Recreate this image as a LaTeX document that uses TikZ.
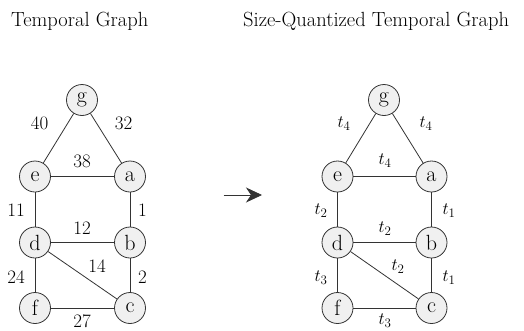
\documentclass[tikz,border=0pt]{standalone}
\usetikzlibrary{arrows.meta}
\definecolor{nodefill}{gray}{0.94}
\definecolor{edgecol}{gray}{0.2}
\newcommand{\tlab}[1]{$t_{\mbox{\fontsize{13}{13}\selectfont #1}}$}
\begin{document}
\begin{tikzpicture}[x=1pt,y=-1pt,
  vtx/.style={circle,draw=edgecol,fill=nodefill,line width=0.8pt,minimum size=31pt,inner sep=0pt,font=\fontsize{22}{22}\selectfont},
  lab/.style={inner sep=0pt,font=\fontsize{19}{19}\selectfont},
  ttl/.style={inner sep=0pt,anchor=base west,font=\fontsize{20.5}{20.5}\selectfont},
  edge/.style={draw=edgecol,line width=0.8pt}]
\useasboundingbox (0,0) rectangle (524,330);
\node[ttl] (t1) at (11,26) {Temporal Graph};
\node[ttl] (t2) at (243,26) {Size-Quantized Temporal Graph};
% left graph
\node[vtx] (g) at (82,100) {g};
\node[vtx] (e) at (35,176.5) {e};
\node[vtx] (a) at (130,176.5) {a};
\node[vtx] (d) at (35,242.5) {d};
\node[vtx] (b) at (130,242.5) {b};
\node[vtx] (f) at (35,308) {f};
\node[vtx] (c) at (130,308) {c};
\draw[edge] (g) -- (e);
\draw[edge] (g) -- (a);
\draw[edge] (e) -- (a);
\draw[edge] (e) -- (d);
\draw[edge] (a) -- (b);
\draw[edge] (d) -- (b);
\draw[edge] (d) -- (c);
\draw[edge] (d) -- (f);
\draw[edge] (b) -- (c);
\draw[edge] (f) -- (c);
\node[lab] (l1) at (39.5,123.5) {40};
\node[lab] (l2) at (123.5,123.5) {32};
\node[lab] (l3) at (82,161) {38};
\node[lab] (l4) at (16,210) {11};
\node[lab] (l5) at (142.5,210) {1};
\node[lab] (l6) at (82,228.5) {12};
\node[lab] (l7) at (97,266.5) {14};
\node[lab] (l8) at (16,277.5) {24};
\node[lab] (l9) at (142.5,277.5) {2};
\node[lab] (l10) at (82,321) {27};
% arrow
\coordinate (as) at (223.5,195);
\coordinate (ae) at (262,195);
\draw[edge,-{Stealth[length=16pt,width=15pt,inset=5pt]}] (as) -- (ae);
% right graph
\node[vtx] (g2) at (384,100) {g};
\node[vtx] (e2) at (337.5,176.5) {e};
\node[vtx] (a2) at (431.5,176.5) {a};
\node[vtx] (d2) at (337.5,242.5) {d};
\node[vtx] (b2) at (431.5,242.5) {b};
\node[vtx] (f2) at (337.5,308) {f};
\node[vtx] (c2) at (431.5,308) {c};
\draw[edge] (g2) -- (e2);
\draw[edge] (g2) -- (a2);
\draw[edge] (e2) -- (a2);
\draw[edge] (e2) -- (d2);
\draw[edge] (a2) -- (b2);
\draw[edge] (d2) -- (b2);
\draw[edge] (d2) -- (c2);
\draw[edge] (d2) -- (f2);
\draw[edge] (b2) -- (c2);
\draw[edge] (f2) -- (c2);
\node[lab] (m1) at (344,124) {\tlab{4}};
\node[lab] (m2) at (426,124) {\tlab{4}};
\node[lab] (m3) at (385,161) {\tlab{4}};
\node[lab] (m4) at (321,211) {\tlab{2}};
\node[lab] (m5) at (449,211) {\tlab{1}};
\node[lab] (m6) at (385,229) {\tlab{2}};
\node[lab] (m7) at (398,267) {\tlab{2}};
\node[lab] (m8) at (321,278) {\tlab{3}};
\node[lab] (m9) at (449,278) {\tlab{1}};
\node[lab] (m10) at (385,320.5) {\tlab{3}};
\end{tikzpicture}
\end{document}
